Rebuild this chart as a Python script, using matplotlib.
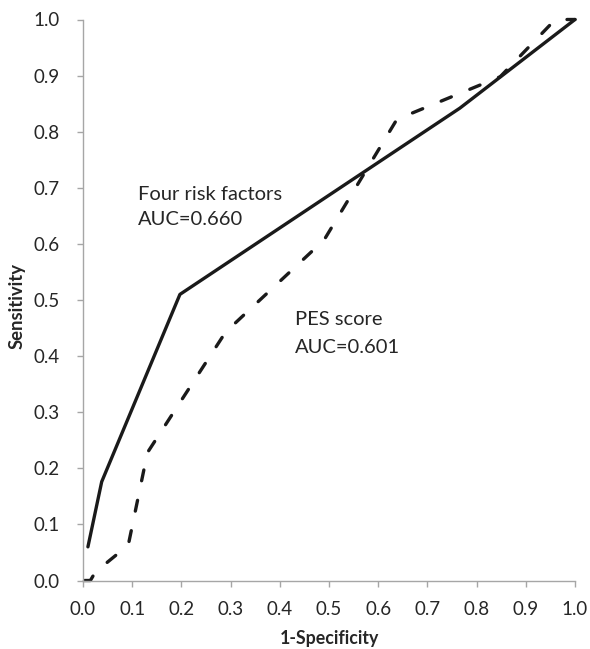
import matplotlib
matplotlib.use("Agg")
import matplotlib.pyplot as plt

# Data
four_fpr = [0.010, 0.038, 0.197, 0.766, 1.000]
four_tpr = [0.060, 0.176, 0.510, 0.842, 1.000]

pes_fpr = [0.003, 0.015, 0.025, 0.092, 0.131, 0.290, 0.490, 0.638, 0.848, 0.960, 1.000]
pes_tpr = [0.000, 0.000, 0.015, 0.063, 0.228, 0.443, 0.607, 0.822, 0.898, 1.000, 1.000]

ticks = [0.0, 0.1, 0.2, 0.3, 0.4, 0.5, 0.6, 0.7, 0.8, 0.9, 1.0]
tick_labels = ["0.0", "0.1", "0.2", "0.3", "0.4", "0.5", "0.6", "0.7", "0.8", "0.9", "1.0"]

plt.rcParams['font.family'] = ['Lato', 'DejaVu Sans']

fig = plt.figure(figsize=(5.9, 6.49), dpi=100)
renderer = fig.canvas.get_renderer()


def fit_size(s, target_px, weight='normal', base=12.0):
    t = fig.text(0, 0, s, fontsize=base, fontweight=weight)
    w = t.get_window_extent(renderer=renderer).width
    t.remove()
    return base * target_px / w


tick_fs = fit_size("0.4", 26)
ann_fs = fit_size("Four risk factors", 144)
xlab_fs = fit_size("1-Specificity", 99, weight='bold')
ylab_fs = fit_size("Sensitivity", 85, weight='bold')

ax = fig.add_axes([83/590, (649-580.5)/649, 492/590, 561/649])

line_col = "#1a1a1a"
ax.plot(four_fpr, four_tpr, color=line_col, lw=2.4, solid_capstyle='round',
        solid_joinstyle='round', clip_on=False)
ax.plot(pes_fpr, pes_tpr, color=line_col, lw=2.4, dashes=(3.3, 6.0),
        dash_capstyle='round', dash_joinstyle='round', clip_on=False)

ax.set_xlim(0, 1)
ax.set_ylim(0, 1)
ax.set_xticks(ticks)
ax.set_xticklabels(tick_labels)
ax.set_yticks(ticks)
ax.set_yticklabels(tick_labels)

gray = "#a6a6a6"
for s in ['top', 'right']:
    ax.spines[s].set_visible(False)
for s in ['left', 'bottom']:
    ax.spines[s].set_color(gray)
    ax.spines[s].set_linewidth(1.0)
ax.tick_params(axis='both', direction='out', length=4.5, width=1.0, color=gray,
               labelsize=tick_fs, labelcolor="#262626")
ax.tick_params(axis='y', pad=12)
ax.tick_params(axis='x', pad=10)

txt_col = "#262626"
ax.set_xlabel("1-Specificity", fontsize=xlab_fs, fontweight='bold', color=txt_col)
ax.set_ylabel("Sensitivity", fontsize=ylab_fs, fontweight='bold', color=txt_col)
ax.xaxis.set_label_coords(0.5, -0.104)
ax.yaxis.set_label_coords(-0.134, 0.49)
ax.xaxis.label.set_va('center')
ax.yaxis.label.set_va('center')

ax.text(0.112, 0.678, "Four risk factors", fontsize=ann_fs, color=txt_col, va='baseline', ha='left')
ax.text(0.112, 0.634, "AUC=0.660", fontsize=ann_fs, color=txt_col, va='baseline', ha='left')
ax.text(0.431, 0.455, "PES score", fontsize=ann_fs, color=txt_col, va='baseline', ha='left')
ax.text(0.431, 0.406, "AUC=0.601", fontsize=ann_fs, color=txt_col, va='baseline', ha='left')

fig.savefig("out.png", dpi=100)
